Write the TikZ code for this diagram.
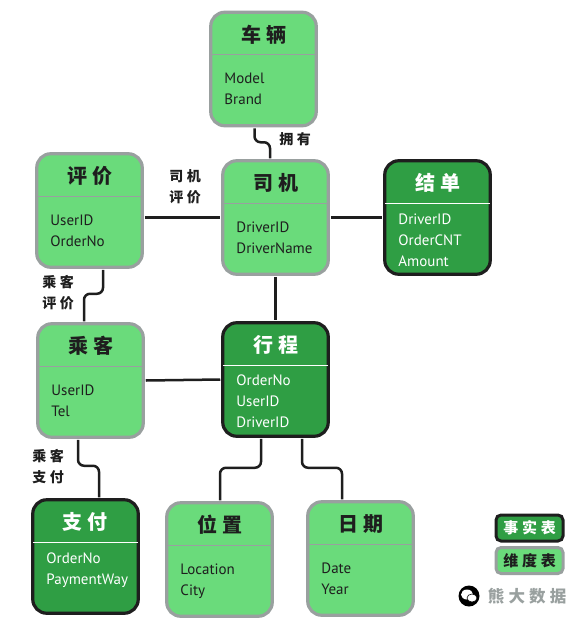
\documentclass[tikz,border=0pt]{standalone}
\usepackage{fontspec}
\setmainfont{PT Sans}
\newfontfamily\cjkfont{Noto Sans CJK SC}
\newfontfamily\cjkhead[LetterSpace=25]{Noto Sans CJK SC}
\usepackage{xcolor}
\usetikzlibrary{positioning}
\definecolor{dimgreen}{HTML}{6ADB7B}
\definecolor{factgreen}{HTML}{2F9E44}
\definecolor{edgegray}{HTML}{99A09F}
\definecolor{inkblack}{HTML}{1E1E1E}
\tikzset{
  dimbox/.style={
    rectangle, rounded corners=14pt, draw=edgegray, line width=3.2pt,
    fill=dimgreen, minimum width=105.5pt, minimum height=113.5pt, outer sep=2.5pt
  },
  factbox/.style={
    dimbox, draw=inkblack, fill=factgreen
  },
  headtext/.style={
    minimum width=105pt, minimum height=44.5pt, inner sep=0pt,
    text height=23pt, text depth=3pt,
    text=inkblack, font=\cjkhead\bfseries\fontsize{20}{20}\selectfont
  },
  headfact/.style={headtext, text=white},
  dimrule/.style={draw=edgegray, line width=1pt},
  factrule/.style={draw=white, line width=1pt},
  attrtext/.style={
    inner sep=0pt, align=left, text=inkblack,
    font=\fontsize{15}{21}\selectfont
  },
  attrfact/.style={attrtext, text=white},
  linkline/.style={draw=inkblack, line width=2.5pt, rounded corners=6pt},
  linktext/.style={
    inner sep=0pt, align=center, text=inkblack,
    font=\cjkhead\bfseries\fontsize{14}{21}\selectfont
  },
  keybox/.style={
    rectangle, rounded corners=5pt, line width=3pt, minimum width=67pt,
    minimum height=26pt, inner sep=0pt, font=\cjkhead\bfseries\fontsize{15}{15}\selectfont
  },
}
\begin{document}
\begin{tikzpicture}[x=1pt,y=-1pt]
  \useasboundingbox (0,0) rectangle (584,622);
  % dimension boxes
  \node[dimbox] (car) at (263.5,69) {};
  \node[headtext, below=0pt of car.north] (carhead) {车辆};
  \draw[dimrule] (carhead.south west) -- (carhead.south east);
  \node[attrtext, below right=63pt and 16pt of car.north west] (carattr) {Model\\Brand};

  \node[dimbox] (driver) at (275.5,217.5) {};
  \node[headtext, below=0pt of driver.north] (driverhead) {司机};
  \draw[dimrule] (driverhead.south west) -- (driverhead.south east);
  \node[attrtext, below right=63pt and 16pt of driver.north west] (driverattr) {DriverID\\DriverName};

  \node[dimbox] (comment) at (89.5,210.5) {};
  \node[headtext, below=0pt of comment.north] (commenthead) {评价};
  \draw[dimrule] (commenthead.south west) -- (commenthead.south east);
  \node[attrtext, below right=63pt and 16pt of comment.north west] (commentattr) {UserID\\OrderNo};

  \node[dimbox] (passenger) at (90.5,380.5) {};
  \node[headtext, below=0pt of passenger.north] (passengerhead) {乘客};
  \draw[dimrule] (passengerhead.south west) -- (passengerhead.south east);
  \node[attrtext, below right=63pt and 16pt of passenger.north west] (passengerattr) {UserID\\Tel};

  \node[dimbox] (place) at (219.5,559.5) {};
  \node[headtext, below=0pt of place.north] (placehead) {位置};
  \draw[dimrule] (placehead.south west) -- (placehead.south east);
  \node[attrtext, below right=63pt and 16pt of place.north west] (placeattr) {Location\\City};

  \node[dimbox] (date) at (360.5,558.5) {};
  \node[headtext, below=0pt of date.north] (datehead) {日期};
  \draw[dimrule] (datehead.south west) -- (datehead.south east);
  \node[attrtext, below right=63pt and 16pt of date.north west] (dateattr) {Date\\Year};

  % fact boxes
  \node[factbox] (settle) at (437.5,217.5) {};
  \node[headfact, below=0pt of settle.north] (settlehead) {结单};
  \draw[factrule] (settlehead.south west) -- (settlehead.south east);
  \node[attrfact, below right=55pt and 16pt of settle.north west] (settleattr) {DriverID\\OrderCNT\\Amount};

  \node[factbox] (trip) at (275.5,379.5) {};
  \node[headfact, below=0pt of trip.north] (triphead) {行程};
  \draw[factrule] (triphead.south west) -- (triphead.south east);
  \node[attrfact, below right=54.5pt and 16pt of trip.north west] (tripattr) {OrderNo\\UserID\\DriverID};

  \node[factbox] (pay) at (85.5,556.5) {};
  \node[headfact, below=0pt of pay.north] (payhead) {支付};
  \draw[factrule] (payhead.south west) -- (payhead.south east);
  \node[attrfact, below right=55pt and 16pt of pay.north west] (payattr) {OrderNo\\PaymentWay};

  % connectors
  \draw[linkline] ([xshift=-9pt]car.south) -- ++(0,14) -| ([xshift=-5.5pt]driver.north);
  \draw[linkline] (comment.east |- driver.west) -- (driver.west);
  \draw[linkline] (driver.east) -- (settle.west);
  \draw[linkline] (driver.south) -- (trip.north);
  \draw[linkline] ([xshift=13.5pt]comment.south) -- ++(0,24) -| ([xshift=-6.5pt]passenger.north);
  \draw[linkline] (passenger.east) -- (trip.west);
  \draw[linkline] ([xshift=-12.5pt]passenger.south) -- ++(0,26) -| ([xshift=13.5pt]pay.north);
  \draw[linkline] ([xshift=-14.5pt]trip.south) -- ++(0,29) -| ([xshift=0.5pt]place.north);
  \draw[linkline] ([xshift=26.5pt]trip.south) -- ++(0,29) -| ([xshift=-18.5pt]date.north);

  % labels
  \node[linktext] (ownlabel) at (295,139) {拥有};
  \node[linktext] (ratedriver) at (185,187) {司机\\评价};
  \node[linktext] (ratepassenger) at (58,293) {乘客\\评价};
  \node[linktext] (paypassenger) at (48,467) {乘客\\支付};

  % legend
  \node[keybox, draw=inkblack, fill=factgreen, text=white] (factkey) at (529.5,528) {事实表};
  \node[keybox, draw=edgegray, fill=dimgreen, text=inkblack] (dimkey) at (529.5,560.5) {维度表};

  % logo
  \node[circle, fill=black, minimum size=21pt, inner sep=0pt] (logo) at (469,596) {};
  \fill[white] ([shift={(-2pt,1.5pt)}]logo.center) ellipse (6pt and 5pt);
  \fill[white, draw=black, line width=0.6pt] ([shift={(3pt,-2pt)}]logo.center) ellipse (5pt and 4pt);
  \node[right=8pt of logo, inner sep=0pt, text=edgegray, font=\cjkhead\bfseries\fontsize{16.5}{16.5}\selectfont] (brand) {熊大数据};
\end{tikzpicture}
\end{document}
